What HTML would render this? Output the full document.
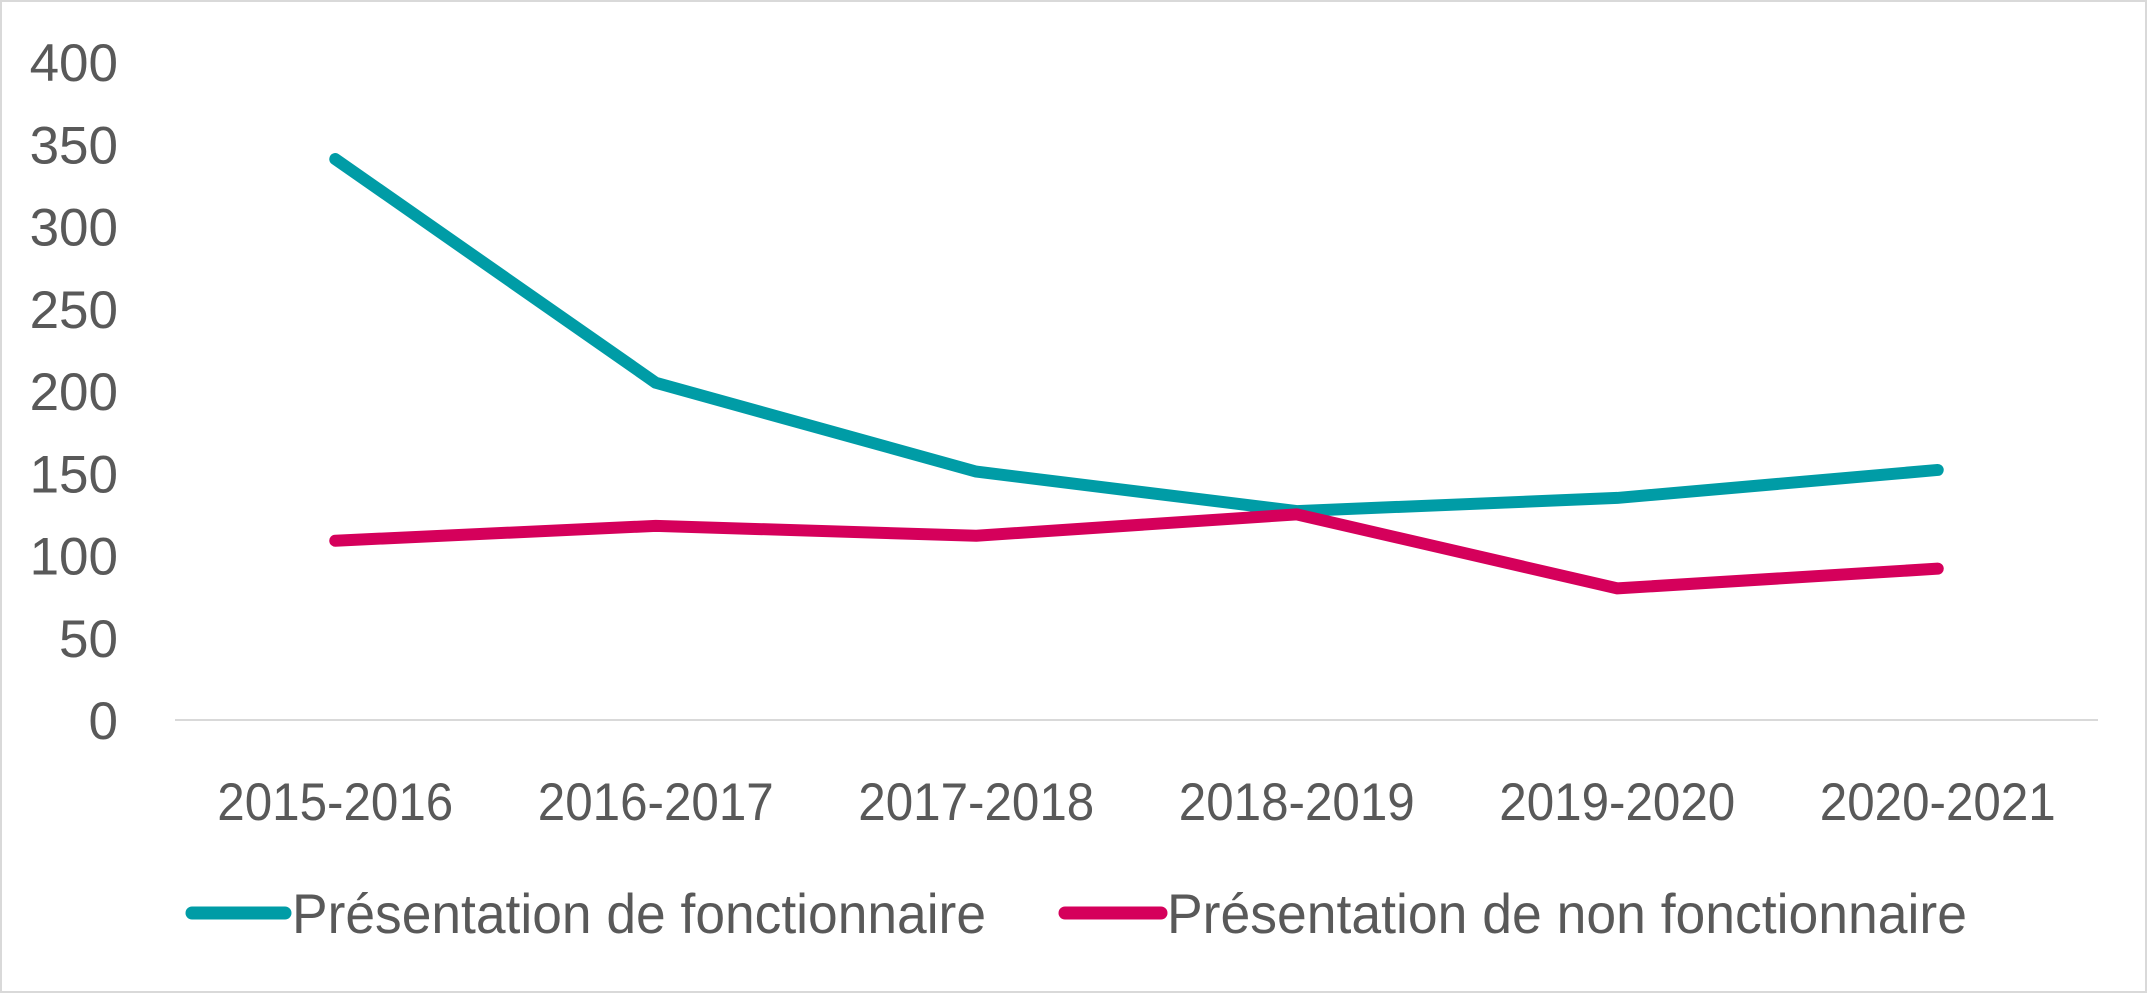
<!DOCTYPE html>
<html><head><meta charset="utf-8"><style>
html,body{margin:0;padding:0;background:#fff}
svg{display:block}
text{font-family:"Liberation Sans",sans-serif;fill:#595959}
</style></head><body>
<svg id="chart" width="2147" height="993" viewBox="0 0 2147 993">
<rect x="1" y="1" width="2145" height="991" fill="#fff" stroke="#d9d9d9" stroke-width="2"/>
<g id="g"></g>
</svg>
<script>
const categories=["2015-2016","2016-2017","2017-2018","2018-2019","2019-2020","2020-2021"];
const fonctValues=[341,205,151,127,135,152];
const nonFonctValues=[109,118,112,125,80,92];
const yTicks=[0,50,100,150,200,250,300,350,400];
const seriesNames=["Présentation de fonctionnaire","Présentation de non fonctionnaire"];
const NS="http://www.w3.org/2000/svg";
const g=document.getElementById('g');
const x0=175,x1=2098,y0=720,yTop=62,yMax=400;
const step=(x1-x0)/categories.length;
const xs=i=>x0+step*(i+0.5);
const ys=v=>y0-(v/yMax)*(y0-yTop);
function mk(t,a){const e=document.createElementNS(NS,t);for(const k in a)e.setAttribute(k,a[k]);g.appendChild(e);return e;}
yTicks.forEach(v=>{
 const t=mk('text',{x:118,y:ys(v)+19,'text-anchor':'end','font-size':53});
 t.textContent=v;
 
 
});
const ax=mk('line',{x1:x0,x2:x1,y1:y0,y2:y0,stroke:'#d9d9d9','stroke-width':2});


categories.forEach((c,i)=>{
 const t=mk('text',{x:xs(i),y:820,'text-anchor':'middle','font-size':53,textLength:236,lengthAdjust:'spacingAndGlyphs'});
 t.textContent=c;
 
 
});
function line(vals,color,name){
 const p=mk('polyline',{points:vals.map((v,i)=>xs(i)+','+ys(v)).join(' '),fill:'none',stroke:color,'stroke-width':12,'stroke-linecap':'round','stroke-linejoin':'round'});
 
 
}
line(fonctValues,'#009CA6','series-fonctionnaire');
line(nonFonctValues,'#D5005B','series-non-fonctionnaire');
const legs=[[192,285,292,694,'#009CA6'],[1065,1161,1167,800,'#D5005B']];
legs.forEach((L,i)=>{
 const l=mk('line',{x1:L[0],x2:L[1],y1:913,y2:913,stroke:L[4],'stroke-width':13,'stroke-linecap':'round'});
 
 
 const t=mk('text',{x:L[2],y:933,'font-size':56,textLength:L[3],lengthAdjust:'spacingAndGlyphs'});
 t.textContent=seriesNames[i];
 
 
});
</script>
</body></html>
